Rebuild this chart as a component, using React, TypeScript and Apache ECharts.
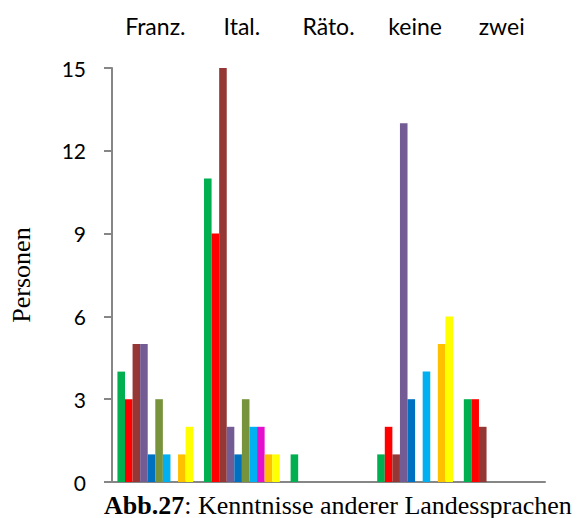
import React, { useEffect, useRef } from "react";
import * as echarts from "echarts";

const categories = ["Franz.", "Ital.", "Räto.", "keine", "zwei"];

const reihe1 = [4, 11, 1, 1, 3];
const reihe2 = [3, 9, 0, 2, 3];
const reihe3 = [5, 15, 0, 1, 2];
const reihe4 = [5, 2, 0, 13, 0];
const reihe5 = [1, 1, 0, 3, 0];
const reihe6 = [3, 3, 0, 0, 0];
const reihe7 = [1, 2, 0, 4, 0];
const reihe8 = [0, 2, 0, 0, 0];
const reihe9 = [1, 1, 0, 5, 0];
const reihe10 = [2, 1, 0, 6, 0];

const seriesNames = ["Reihe 1", "Reihe 2", "Reihe 3", "Reihe 4", "Reihe 5", "Reihe 6", "Reihe 7", "Reihe 8", "Reihe 9", "Reihe 10"];
const seriesValues = [reihe1, reihe2, reihe3, reihe4, reihe5, reihe6, reihe7, reihe8, reihe9, reihe10];
const seriesColors = ["#00B050", "#FF0000", "#953735", "#735B93", "#0070C0", "#77933C", "#00B0F0", "#E510CE", "#FFC000", "#FFFF00"];

const yTicks = [0, 3, 6, 9, 12, 15];

export default function App() {
  const ref = useRef<HTMLDivElement>(null);
  useEffect(() => {
    if (!ref.current) return;
    const chart = echarts.init(ref.current, null, { renderer: "svg" });
    chart.setOption({
      animation: false,
      grid: { left: 105, top: 68, right: 38, bottom: 36, containLabel: false },
      title: {
        left: 104,
        top: 492,
        padding: 0,
        text: "{b|Abb.27}{r|: Kenntnisse anderer Landessprachen}",
        textStyle: {
          fontWeight: "normal",
          rich: {
            b: { fontFamily: "Liberation Serif", fontSize: 26, fontWeight: "bold", color: "#000" },
            r: { fontFamily: "Liberation Serif", fontSize: 26, fontWeight: "normal", color: "#000" },
          },
        },
      },
      xAxis: [
        {
          type: "category",
          data: categories,
          position: "bottom",
          axisLine: { show: true, lineStyle: { color: "#868686", width: 2 } },
          axisTick: { show: false },
          axisLabel: { show: false },
          splitLine: { show: false },
        },
        {
          type: "category",
          data: categories,
          position: "top",
          axisLine: { show: false },
          axisTick: { show: false },
          axisLabel: { show: true, fontFamily: "Lato", fontSize: 23, color: "#000", margin: 31 },
          splitLine: { show: false },
        },
      ],
      yAxis: {
        type: "value",
        min: yTicks[0],
        max: yTicks[yTicks.length - 1],
        interval: 3,
        name: "Personen",
        nameLocation: "middle",
        nameRotate: 90,
        nameGap: 78,
        nameTextStyle: { fontFamily: "Liberation Serif", fontSize: 26, color: "#000" },
        axisLine: { show: true, lineStyle: { color: "#868686", width: 2 } },
        axisTick: { show: true, inside: false, length: 8, lineStyle: { color: "#868686", width: 2 } },
        axisLabel: { fontFamily: "Lato", fontSize: 21, color: "#000", margin: 26 },
        splitLine: { show: false },
      },
      series: seriesValues.map((vals, i) => ({
        name: seriesNames[i],
        type: "bar",
        xAxisIndex: 0,
        data: vals,
        barGap: "0%",
        barCategoryGap: "12.5%",
        itemStyle: { color: seriesColors[i] },
      })),
    });
    return () => chart.dispose();
  }, []);
  return <div ref={ref} style={{ position: "fixed", left: 0, top: 0, width: 583, height: 518, background: "#fff" }} />;
}
